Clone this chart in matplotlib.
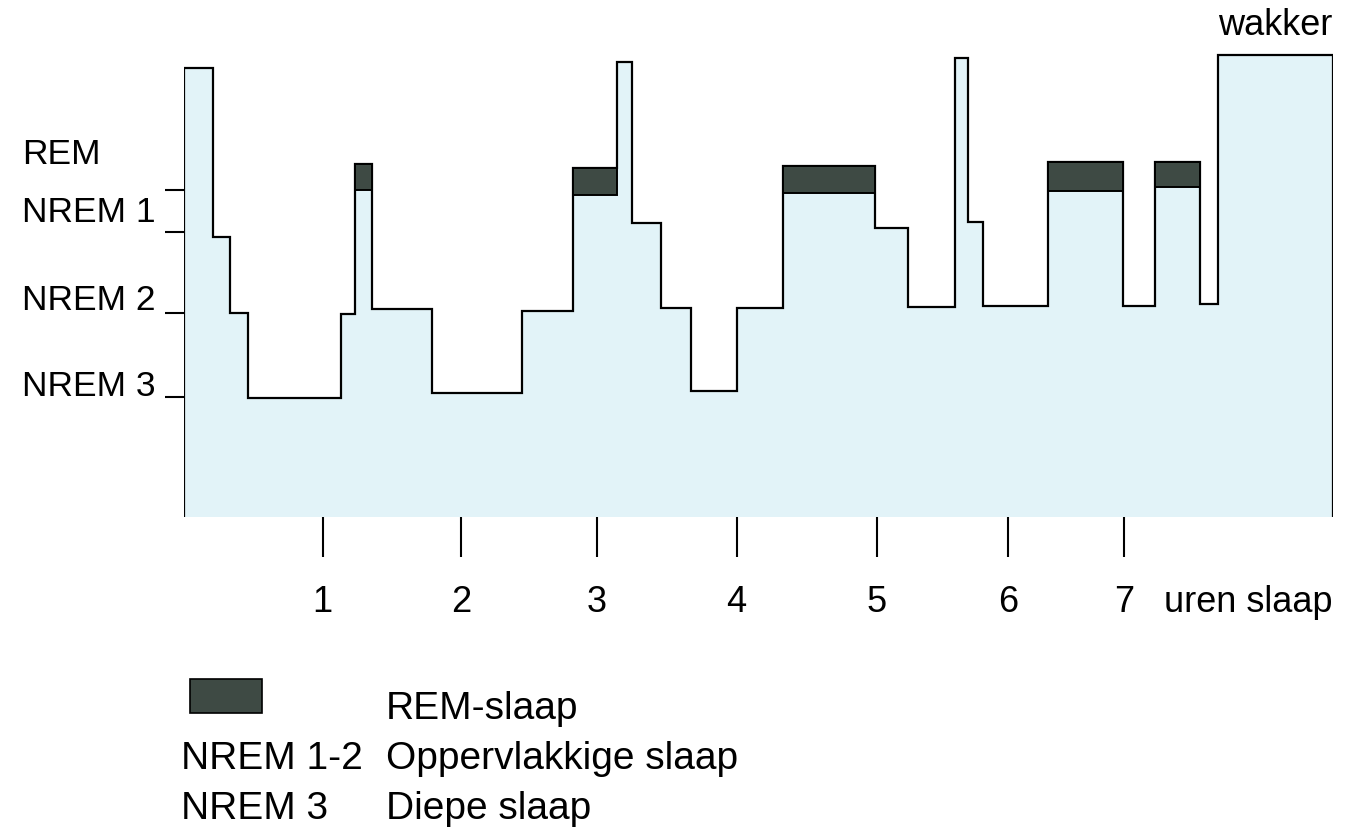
import matplotlib.pyplot as plt
from matplotlib.patches import Rectangle

plt.rcParams['font.family'] = ['Liberation Sans', 'DejaVu Sans']

W, H = 1353, 833

# hypnogram: segment edges (hours) and depth level for each segment
edges = [0, 0.209, 0.332, 0.462, 1.134, 1.235, 1.357, 1.791, 2.440, 2.809,
         3.126, 3.235, 3.444, 3.661, 3.993, 4.325, 4.989, 5.227, 5.567,
         5.661, 5.769, 6.238, 6.780, 7.011, 7.336, 7.466, 8.296]
stages = ['wakker', 'NREM 1', 'NREM 2', 'NREM 3', 'NREM 2', 'REM', 'NREM 2',
          'NREM 3', 'NREM 2', 'REM', 'wakker', 'NREM 1', 'NREM 2', 'NREM 3',
          'NREM 2', 'REM', 'NREM 1', 'NREM 2', 'wakker', 'NREM 1', 'NREM 2',
          'REM', 'NREM 2', 'REM', 'NREM 2', 'wakker']
levels = [4.49, 2.80, 2.04, 1.19, 2.03, 3.53, 2.08, 1.24, 2.06, 3.49, 4.55,
          2.94, 2.09, 1.26, 2.09, 3.51, 2.89, 2.10, 4.59, 2.95, 2.11, 3.55,
          2.11, 3.55, 2.13, 4.62]
# lower edge of the dark REM blocks (top of the light fill)
rem_bottoms = [3.27, 3.22, 3.24, 3.26, 3.30]

stage_ticks = [3.27, 2.85, 2.04, 1.20]
hour_ticks = [1.0, 2.0, 2.98, 3.99, 5.0, 5.95, 6.79]
hour_labels = ['1', '2', '3', '4', '5', '6', '7']

legend_keys = ['', 'NREM 1-2', 'NREM 3']
legend_texts = ['REM-slaap', 'Oppervlakkige slaap', 'Diepe slaap']

light = '#e2f3f8'
dark = '#3e4a44'

fig = plt.figure(figsize=(W / 100, H / 100), dpi=100)
ax = fig.add_axes([184 / W, (H - 517) / H, (1333 - 184) / W, 477 / H])
ax.set_xlim(0, edges[-1])
ax.set_ylim(0, 4.77)

ax.stairs(levels, edges, baseline=0, fill=True, facecolor=light,
          edgecolor='black', linewidth=1.6)

# REM blocks
rem_x = [edges[i] for i, s in enumerate(stages) if s == 'REM']
rem_w = [edges[i + 1] - edges[i] for i, s in enumerate(stages) if s == 'REM']
rem_top = [levels[i] for i, s in enumerate(stages) if s == 'REM']
ax.bar(rem_x, [t - b for t, b in zip(rem_top, rem_bottoms)], width=rem_w,
       bottom=rem_bottoms, align='edge', color=dark, edgecolor='black',
       linewidth=1.4)

for sp in ax.spines.values():
    sp.set_visible(False)

ax.set_xticks(hour_ticks)
ax.set_xticklabels(hour_labels)
ax.tick_params(axis='x', direction='out', length=29, width=1.5, pad=20,
               labelsize=26)
ax.set_yticks(stage_ticks)
ax.set_yticklabels([])
ax.tick_params(axis='y', direction='out', length=13.5, width=1.5)

fs = 25.5
fig.text(22 / W, 1 - 155 / H, 'REM', fontsize=fs, va='center', ha='left')
fig.text(22 / W, 1 - 212 / H, 'NREM 1', fontsize=fs, va='center', ha='left')
fig.text(22 / W, 1 - 300 / H, 'NREM 2', fontsize=fs, va='center', ha='left')
fig.text(22 / W, 1 - 387 / H, 'NREM 3', fontsize=fs, va='center', ha='left')

fig.text(1332 / W, 1 - 35 / H, 'wakker', fontsize=26, ha='right', va='baseline')
fig.text(1333 / W, 1 - 612 / H, 'uren slaap', fontsize=26, ha='right',
         va='baseline')

# legend
fig.add_artist(Rectangle((190 / W, 1 - 713 / H), 72 / W, 34 / H,
                         transform=fig.transFigure, facecolor=dark,
                         edgecolor='black', linewidth=1.2))
row_y = [709, 759, 809]
for key, txt, y in zip(legend_keys, legend_texts, row_y):
    if key:
        fig.text(181 / W, 1 - y / H, key, fontsize=28, va='center')
    fig.text(386 / W, 1 - y / H, txt, fontsize=28, va='center')

fig.savefig('out.png', dpi=100)
